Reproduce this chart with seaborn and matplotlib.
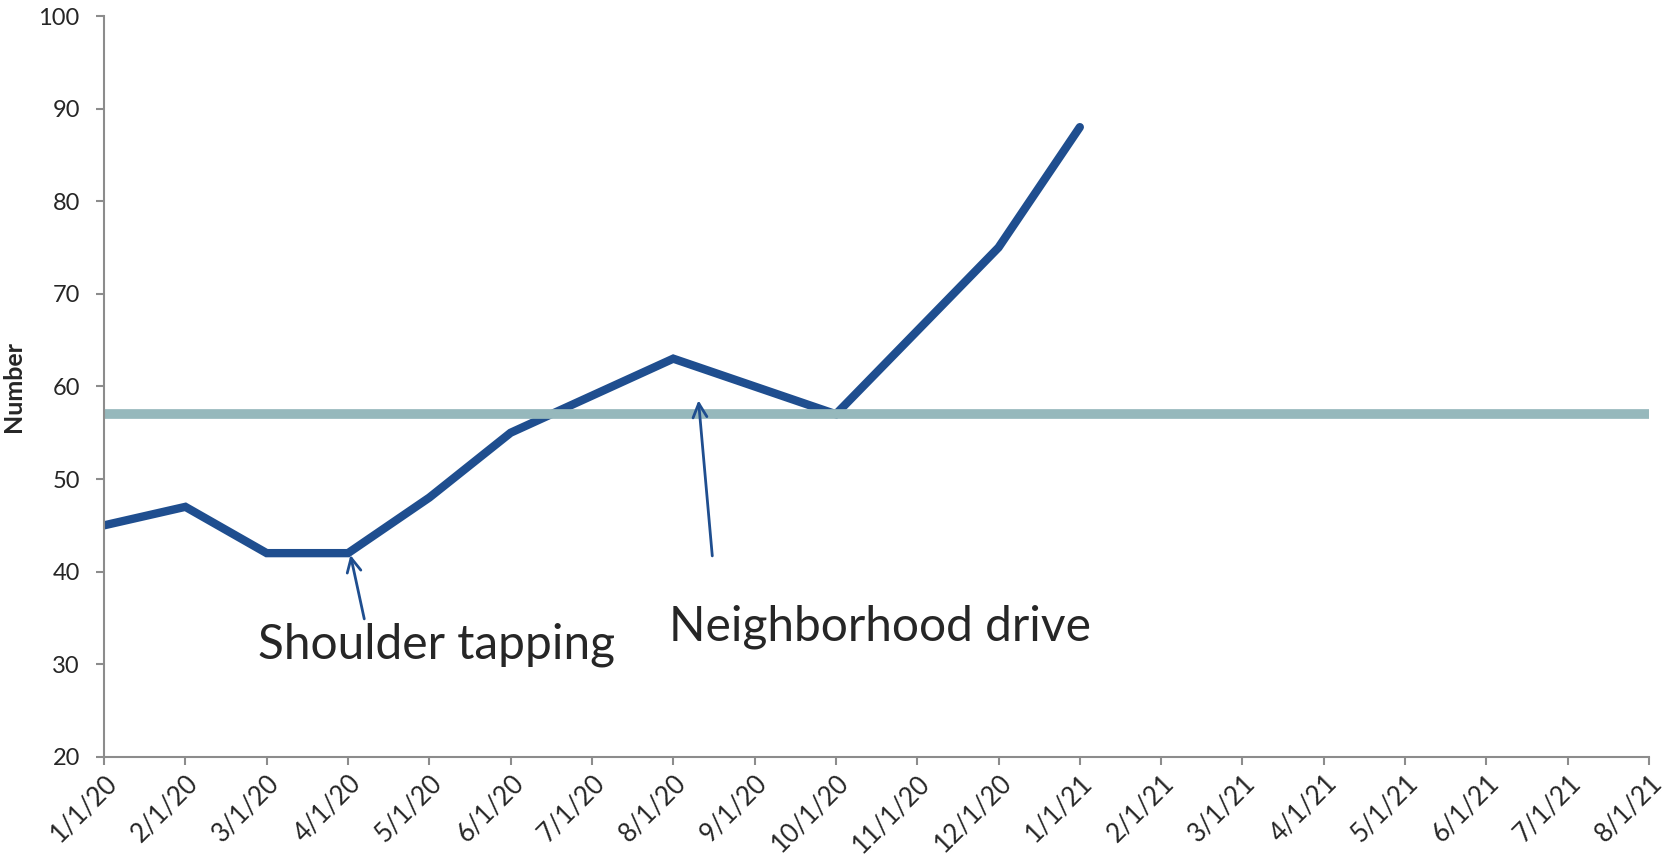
import matplotlib
matplotlib.use("Agg")
import pandas as pd
import seaborn as sns
import matplotlib.pyplot as plt

months = ["1/1/20", "2/1/20", "3/1/20", "4/1/20", "5/1/20", "6/1/20", "7/1/20",
          "8/1/20", "9/1/20", "10/1/20", "11/1/20", "12/1/20", "1/1/21", "2/1/21",
          "3/1/21", "4/1/21", "5/1/21", "6/1/21", "7/1/21", "8/1/21"]
counts = [45, 47, 42, 42, 48, 55, 59, 63, 60, 57, 66, 75, 88]
goal = 57

notes = ["Shoulder tapping", "Neighborhood drive"]
note_text_xy = [(1.89, 32.1), (6.95, 34.0)]
note_tail_xy = [(3.20, 34.9), (7.48, 41.7)]
note_head_xy = [(3.03, 41.8), (7.31, 58.5)]

df = pd.DataFrame({"pos": range(len(counts)), "Number": counts})
goal_df = pd.DataFrame({"pos": range(len(months)), "Number": [goal] * len(months)})

sns.set_style("ticks")
plt.rcParams["font.family"] = ["Lato", "DejaVu Sans"]

fig, ax = plt.subplots(figsize=(16.65, 8.65), dpi=100)
fig.subplots_adjust(left=0.0625, right=0.9904, top=0.9815, bottom=0.125)

sns.lineplot(data=df, x="pos", y="Number", color="#1f4e8f", linewidth=6, ax=ax,
             solid_capstyle="round", solid_joinstyle="miter")
sns.lineplot(data=goal_df, x="pos", y="Number", color="#96b8bc", linewidth=7, ax=ax,
             solid_capstyle="butt")

for label, txy, tail, head in zip(notes, note_text_xy, note_tail_xy, note_head_xy):
    ax.annotate("", xy=head, xytext=tail,
                arrowprops=dict(arrowstyle="->", color="#1f4e8f", lw=2, mutation_scale=25,
                                shrinkA=0, shrinkB=0))
    ax.text(txy[0], txy[1], label, fontsize=34.5, va="center", ha="left", color="#262626")

ax.set_xlim(0, len(months) - 1)
ax.set_ylim(20, 100)
ax.set_yticks(range(20, 101, 10))
ax.set_xticks(range(len(months)))
ax.set_xticklabels(months, rotation=45, ha="right", rotation_mode="anchor")

sns.despine(ax=ax)
for side in ["left", "bottom"]:
    ax.spines[side].set_color("#8c8c8c")
    ax.spines[side].set_linewidth(1.5)
ax.tick_params(length=5.5, width=1.5, color="#8c8c8c", labelcolor="#262626")
ax.tick_params(axis="y", labelsize=17, pad=12)
ax.tick_params(axis="x", labelsize=18.5, pad=4)

ax.set_xlabel("")
ax.set_ylabel("Number", fontsize=18, fontweight="bold", color="#262626", labelpad=10)

plt.savefig("out.png", dpi=100)
